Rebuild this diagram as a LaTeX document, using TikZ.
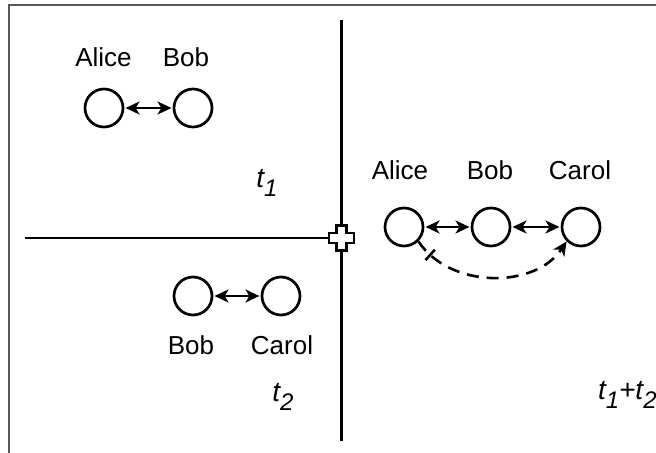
\documentclass[tikz,border=0pt]{standalone}
\usepackage{fontspec}
\setmainfont{Liberation Sans}
\usetikzlibrary{arrows.meta,decorations.markings}
\newcommand{\tsub}[1]{\raisebox{-0.55ex}{\fontsize{12}{14}\selectfont #1}}
\begin{document}
\begin{tikzpicture}[x=0.5pt,y=-0.5pt,
  peer/.style={circle,draw,line width=1.35pt,minimum size=19pt,inner sep=0pt},
  who/.style={font=\fontsize{13}{15}\selectfont,inner sep=0pt},
  tlab/.style={font=\fontsize{14}{16}\selectfont\itshape,inner sep=0pt},
  link/.style={line width=1.3pt,{Stealth[length=7pt,width=6.5pt,inset=2pt]}-{Stealth[length=7pt,width=6.5pt,inset=2pt]},shorten >=0.6pt,shorten <=0.6pt},
  axis/.style={line width=1.4pt},
  frame/.style={draw=black!65,line width=0.9pt}]
\useasboundingbox (0,0) rectangle (656,453);
% frame
\coordinate (fbl) at (9,470);
\coordinate (ftl) at (9,5);
\coordinate (ftr) at (670,5);
\draw[frame] (fbl) -- (ftl) -- (ftr);
% axes
\coordinate (ctr) at (341.5,238);
\coordinate (vtop) at (341.5,20);
\coordinate (vbot) at (341.5,441);
\coordinate (hleft) at (25,238);
\draw[axis] (vtop) -- (vbot);
\draw[axis] (hleft) -- (ctr);
\draw[line width=1.3pt,fill=white] (ctr) ++(-5,-12.5) -- ++(10,0) -- ++(0,7.5) -- ++(7.5,0) -- ++(0,10) -- ++(-7.5,0) -- ++(0,7.5) -- ++(-10,0) -- ++(0,-7.5) -- ++(-7.5,0) -- ++(0,-10) -- ++(7.5,0) -- cycle;
% top-left: t1
\node[peer] (a1) at (104,108) {};
\node[peer] (b1) at (193,108) {};
\node[who] (la1) at (103.5,57) {Alice};
\node[who] (lb1) at (186,57) {Bob};
\draw[link] (a1) -- (b1);
\node[tlab] (t1) at (267,183) {t\tsub{1}};
% bottom-left: t2
\node[peer] (b2) at (193,296) {};
\node[peer] (c2) at (281,296) {};
\node[who] (lb2) at (191,345) {Bob};
\node[who] (lc2) at (282,345) {Carol};
\draw[link] (b2) -- (c2);
\node[tlab] (t2) at (283,397) {t\tsub{2}};
% right: t1+t2
\node[peer] (a3) at (404,227) {};
\node[peer] (b3) at (491,227) {};
\node[peer] (c3) at (581,227) {};
\node[who] (la3) at (400,170) {Alice};
\node[who] (lb3) at (490,170) {Bob};
\node[who] (lc3) at (580,170) {Carol};
\draw[link] (a3) -- (b3);
\draw[link] (b3) -- (c3);
\draw[line width=1.3pt,dash pattern=on 6pt off 4pt,-{Stealth[length=7pt,width=6.5pt,inset=2pt]},
  postaction={decorate},
  decoration={markings,mark=at position 9pt with {\draw[-,solid,line width=1.3pt] (0,-3.5pt) -- (0,3.5pt);}}]
  (a3.-45) .. controls (450,289) and (535,289) .. (c3.-135);
\node[tlab,anchor=east] (t12) at (657,395) {t\tsub{1}+t\tsub{2}};
\end{tikzpicture}
\end{document}
